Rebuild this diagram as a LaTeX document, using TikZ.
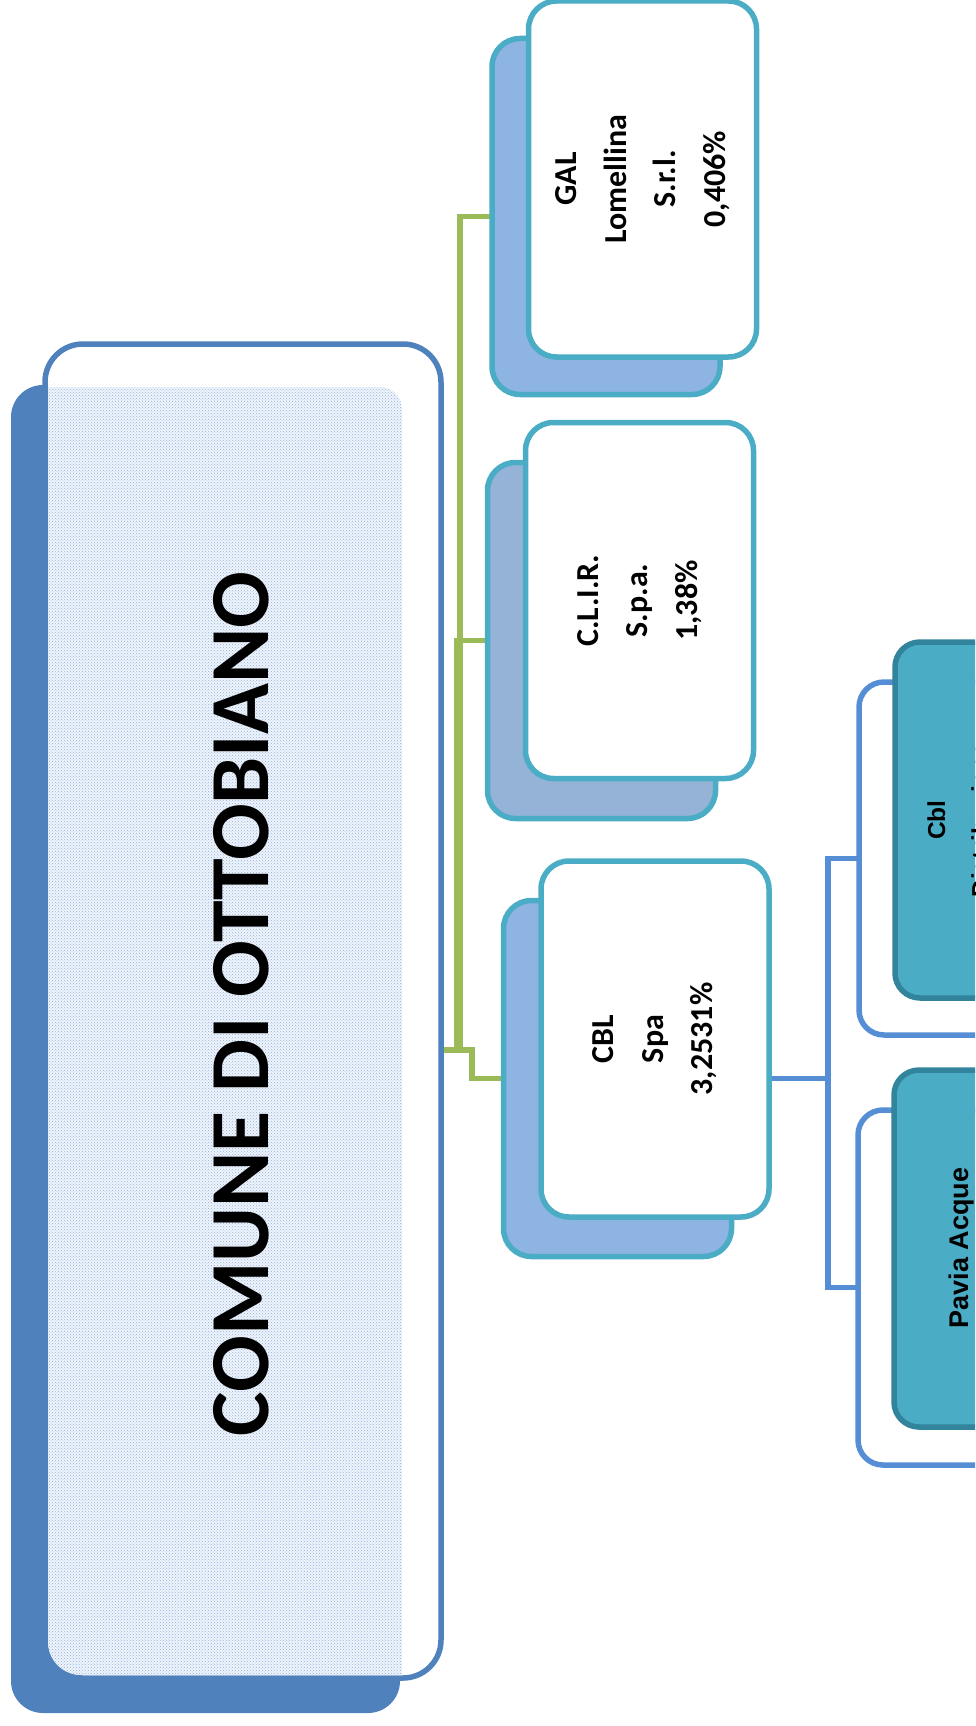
\documentclass[tikz,border=0pt]{standalone}
\usepackage{fontspec}
\setmainfont{Carlito}
\newfontfamily\arialfont{Liberation Sans}
\usetikzlibrary{patterns,backgrounds}
\definecolor{mainblue}{HTML}{4F81BD}
\definecolor{connblue}{HTML}{558ED5}
\definecolor{greenc}{HTML}{9BBB59}
\definecolor{cyanb}{HTML}{4BACC6}
\definecolor{backa}{HTML}{8EB4E3}
\definecolor{backb}{HTML}{95B3D7}
\definecolor{tealf}{HTML}{4BACC6}
\definecolor{tealb}{HTML}{31849B}
\definecolor{patbg}{HTML}{F0F4FA}
\definecolor{patdot}{HTML}{8DB3E2}
\definecolor{faintg}{HTML}{DDE7C4}
\begin{document}
\begin{tikzpicture}[x=1pt,y=-1pt,
  mshadow/.style={fill=mainblue, rounded corners=32pt, minimum width=389pt, minimum height=1328pt, inner sep=0pt, outer sep=0pt},
  mbox/.style={fill=white, draw=mainblue, line width=5.5pt, rounded corners=38pt, minimum width=396pt, minimum height=1334pt, inner sep=0pt, outer sep=0pt},
  backbox/.style={draw=cyanb, line width=5.5pt, rounded corners=28pt, minimum width=228pt, minimum height=356pt, inner sep=0pt, outer sep=0pt},
  frontbox/.style={backbox, fill=white},
  boxtext/.style={rotate=90, align=center, inner sep=0pt, font=\fontsize{32}{49.5}\selectfont\bfseries},
  framebox/.style={fill=white, draw=connblue, line width=5.5pt, rounded corners=25pt, inner sep=0pt, outer sep=0pt},
  innerbox/.style={fill=tealf, draw=tealb, line width=5.5pt, rounded corners=25pt, inner sep=0pt, outer sep=0pt},
  rtext/.style={rotate=90, anchor=base, inner sep=0pt},
  gline/.style={draw=greenc, line width=5.5pt},
  bline/.style={draw=connblue, line width=5.5pt},
  faint/.style={draw=faintg, line width=1.5pt, dotted}]
\useasboundingbox (0,0) rectangle (975,1726);
\clip (0,0) rectangle (975,1726);

% main box
\node[mshadow] (mainshadow) at (205.5,1049) {};
\node[mbox] (main) at (243,1011) {};
\fill[patbg] (48,387) -- (380,387) .. controls (392.1,387) and (402,396.9) .. (402,409)
  -- (402,1675) -- (81,1675) .. controls (62.8,1675) and (48,1660.2) .. (48,1642) -- cycle;
\fill[pattern=crosshatch dots, pattern color=patdot] (48,387) -- (380,387) .. controls (392.1,387) and (402,396.9) .. (402,409)
  -- (402,1675) -- (81,1675) .. controls (62.8,1675) and (48,1660.2) .. (48,1642) -- cycle;
\node[rotate=90, anchor=base, inner sep=0pt, font=\fontsize{84}{100}\selectfont\bfseries] (title) at (268,1004) {COMUNE DI OTTOBIANO};

% GAL
\node[backbox, fill=backa] (galback) at (606,216.5) {};
\node[frontbox] (galfront) at (642.5,179) {};
\node[boxtext] (galtext) at (galfront.center) {GAL\\Lomellina\\S.r.l.\\0,406\%};

% CLIR
\node[backbox, fill=backb] (clirback) at (601.5,640.5) {};
\node[frontbox] (clirfront) at (639.5,600.5) {};
\node[boxtext] (clirtext) at (clirfront.center) {C.L.I.R.\\S.p.a.\\1,38\%};

% CBL
\node[backbox, fill=backa] (cblback) at (617.5,1078.5) {};
\node[frontbox] (cblfront) at (655,1039) {};
\node[boxtext] (cbltext) at (cblfront.center) {CBL\\Spa\\3,2531\%};

% sub companies
\node[framebox, minimum width=201pt, minimum height=353pt] (cblframe) at (959.5,858.5) {};
\node[innerbox, minimum width=126pt, minimum height=356pt] (cblinner) at (958,820) {};
\node[rtext, font=\arialfont\bfseries\fontsize{24.5}{29}\selectfont] (cbltexta) at (945,820) {Cbl};
\node[rtext, font=\arialfont\bfseries\fontsize{24.5}{29}\selectfont] (cbltextb) at (989,820) {Distribuzione};

\node[framebox, minimum width=202pt, minimum height=355pt] (paviaframe) at (959,1287.5) {};
\node[innerbox, minimum width=127pt, minimum height=357pt] (paviainner) at (957.5,1248.5) {};
\node[rtext, font=\arialfont\bfseries\fontsize{27}{32}\selectfont] (paviatext) at (968,1248) {Pavia Acque};

% connectors
\begin{scope}[on background layer]
\coordinate (mainport) at (441,1050);
\coordinate (faintend) at (407,1050);
\draw[faint] (faintend) -- (mainport);
\draw[gline] (mainport) -- ++(19,0) |- (galback.west);
\draw[gline] (mainport) -- ++(15.5,0) |- (clirback.west);
\draw[gline] (mainport) -- ++(31,0) |- (cblback.west);
\coordinate (cblport) at (cblfront.east |- cblback.center);
\draw[bline] (cblport) -- ++(59,0) |- (cblframe.west);
\draw[bline] (cblport) -- ++(59,0) |- (paviaframe.west);
\end{scope}
\end{tikzpicture}
\end{document}
